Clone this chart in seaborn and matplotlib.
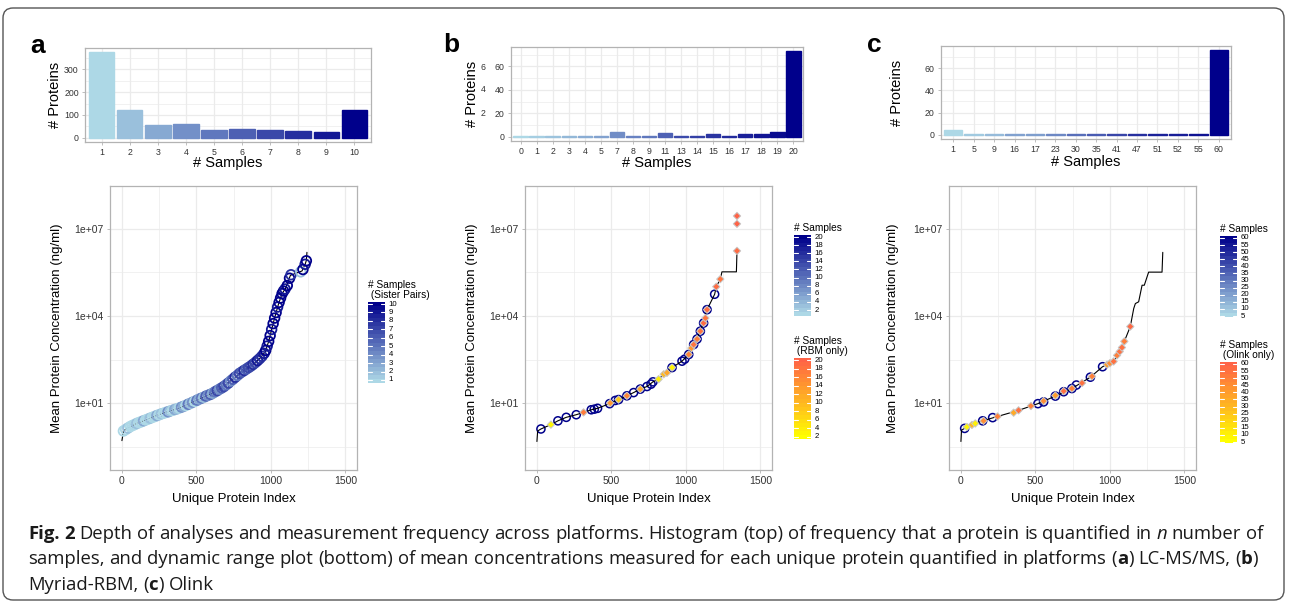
import numpy as np
import pandas as pd
import matplotlib
matplotlib.use("Agg")
import matplotlib.pyplot as plt
import seaborn as sns
from matplotlib.colors import LinearSegmentedColormap, Normalize
from matplotlib.ticker import FixedLocator, NullLocator, FuncFormatter
from matplotlib.patches import FancyBboxPatch
from matplotlib.transforms import IdentityTransform, blended_transform_factory

# ---------------- data ----------------
a_hist_samples = [1, 2, 3, 4, 5, 6, 7, 8, 9, 10]
a_hist_proteins = [375, 120, 54, 61, 33, 38, 33, 30, 23, 120]
b_hist_samples = [0, 1, 2, 3, 4, 5, 7, 8, 9, 11, 13, 14, 15, 16, 17, 18, 19, 20]
b_hist_proteins = [1, 1, 1, 1, 1, 1, 4, 1, 1, 3, 1, 1, 2, 1, 2, 2, 4, 73]
c_hist_samples = [1, 5, 9, 16, 17, 23, 30, 35, 41, 47, 51, 52, 55, 60]
c_hist_proteins = [4, 1, 1, 1, 1, 1, 1, 1, 1, 1, 1, 1, 1, 76]

# panel a: LC-MS/MS dynamic range (index, log10 mean conc, # sister pairs)
a_pt_idx = [10, 25, 40, 55, 70, 85, 100, 115, 130, 145, 160, 175, 190, 205, 220, 235, 250, 265, 280, 295,
            310, 325, 340, 355, 370, 385, 400, 415, 430, 445, 460, 475, 490, 505, 520, 535, 550, 565, 580, 595,
            610, 625, 640, 655, 670, 685, 700, 715, 730, 745, 760, 775, 790, 805, 820, 835, 850, 865, 880, 895,
            910, 925, 940, 955, 965, 975, 985, 995, 1005, 1015, 1025, 1035, 1045, 1055, 1065, 1075, 1085, 1095,
            1110, 1125, 1135, 1200, 1215, 1230, 1238]
a_pt_log = [0.05, 0.10, 0.15, 0.20, 0.24, 0.27, 0.31, 0.34, 0.37, 0.40, 0.43, 0.46, 0.49, 0.52, 0.55, 0.58, 0.61, 0.64, 0.66, 0.69,
            0.71, 0.74, 0.76, 0.79, 0.81, 0.84, 0.87, 0.90, 0.93, 0.97, 1.00, 1.04, 1.07, 1.11, 1.15, 1.18, 1.21, 1.25, 1.28, 1.31,
            1.35, 1.40, 1.44, 1.49, 1.53, 1.58, 1.64, 1.70, 1.77, 1.83, 1.90, 1.96, 2.03, 2.08, 2.13, 2.18, 2.23, 2.28, 2.34, 2.40,
            2.47, 2.54, 2.62, 2.72, 2.82, 2.97, 3.13, 3.33, 3.54, 3.74, 3.93, 4.12, 4.31, 4.47, 4.62, 4.77, 4.86, 4.93,
            5.05, 5.30, 5.42, 5.52, 5.60, 5.78, 5.90]
a_pt_n = [1, 1, 2, 1, 1, 1, 2, 1, 1, 3, 1, 1, 2, 1, 1, 3, 1, 2, 1, 1,
          4, 2, 1, 3, 2, 1, 4, 3, 1, 5, 2, 4, 1, 5, 3, 5, 2, 6, 4, 6,
          3, 5, 7, 4, 6, 7, 5, 7, 4, 6, 8, 5, 7, 6, 8, 6, 7, 7, 8, 7,
          9, 8, 8, 9, 10, 9, 10, 10, 9, 10, 10, 10, 9, 10, 10, 10, 10, 9,
          10, 10, 8, 2, 10, 9, 10]
a_line_idx = [0, 11, 67, 123, 190, 257, 325, 392, 459, 526, 593, 660, 728, 795, 862, 929, 963, 985, 1007, 1030,
              1052, 1075, 1097, 1131, 1209, 1231, 1238, 1242]
a_line_log = [-0.28, 0.06, 0.23, 0.36, 0.49, 0.63, 0.74, 0.85, 1.00, 1.16, 1.31, 1.50, 1.76, 2.05, 2.27, 2.56, 2.78, 3.13, 3.58, 4.03,
              4.43, 4.77, 4.94, 5.40, 5.55, 5.80, 5.91, 6.19]

# panel b: Myriad-RBM
b_circ_idx = [27, 141, 197, 264, 365, 385, 407, 488, 526, 548, 604, 649, 694, 739, 766, 779, 907, 974, 992, 1019,
              1052, 1075, 1097, 1119, 1142, 1193]
b_circ_log = [0.12, 0.40, 0.52, 0.61, 0.78, 0.80, 0.83, 0.99, 1.10, 1.13, 1.26, 1.37, 1.49, 1.58, 1.66, 1.74, 2.23, 2.45, 2.52, 2.68,
              3.02, 3.21, 3.48, 3.76, 4.22, 4.75]
b_circ_n = [20, 20, 20, 20, 20, 19, 20, 20, 20, 20, 20, 20, 20, 20, 20, 19, 20, 20, 20, 20,
            20, 20, 20, 20, 20, 20]
b_dot_idx = [94, 313, 492, 548, 604, 694, 817, 851, 873, 907, 1019, 1037, 1052, 1075, 1097, 1119, 1131, 1142,
             1204, 1231, 1343, 1343, 1343]
b_dot_log = [0.27, 0.69, 1.01, 1.13, 1.26, 1.49, 1.83, 2.00, 2.05, 2.23, 2.68, 2.90, 3.02, 3.21, 3.48, 3.76, 3.93, 4.22,
             5.01, 5.27, 6.24, 7.17, 7.44]
b_dot_n = [3, 17, 14, 8, 16, 12, 4, 10, 12, 3, 16, 14, 18, 17, 18, 19, 18, 19,
           19, 18, 19, 20, 20]
b_line_idx = [0, 5, 27, 94, 141, 197, 264, 313, 365, 407, 488, 548, 604, 649, 694, 739, 779, 817, 851, 907,
              974, 1019, 1052, 1097, 1142, 1193, 1204, 1231, 1242, 1339, 1343]
b_line_log = [-0.31, 0.05, 0.12, 0.27, 0.40, 0.52, 0.61, 0.69, 0.78, 0.83, 0.99, 1.13, 1.26, 1.37, 1.49, 1.58, 1.74, 1.83, 2.00, 2.23,
              2.45, 2.68, 3.02, 3.48, 4.22, 4.75, 5.01, 5.27, 5.52, 5.52, 6.24]

# panel c: Olink
c_circ_idx = [25, 146, 213, 517, 555, 634, 690, 745, 775, 869, 951]
c_circ_log = [0.14, 0.40, 0.51, 0.99, 1.05, 1.25, 1.40, 1.51, 1.63, 1.90, 2.26]
c_circ_n = [60, 60, 60, 60, 60, 60, 60, 60, 60, 60, 60]
c_dot_idx = [40, 74, 96, 152, 246, 354, 387, 470, 555, 634, 690, 745, 813, 880, 981, 1000, 1025, 1048, 1066, 1081, 1097, 1137]
c_dot_log = [0.19, 0.26, 0.31, 0.40, 0.55, 0.68, 0.76, 0.91, 1.08, 1.27, 1.42, 1.51, 1.70, 1.93, 2.33, 2.38, 2.44, 2.65, 2.78, 2.92, 3.13, 3.64]
c_dot_n = [8, 30, 10, 45, 50, 35, 55, 50, 45, 40, 55, 50, 55, 50, 40, 45, 55, 50, 55, 55, 50, 58]
c_line_idx = [0, 4, 25, 96, 146, 246, 387, 517, 634, 745, 869, 951, 1025, 1066, 1097, 1137, 1160, 1171, 1193, 1216,
              1231, 1260, 1350, 1355]
c_line_log = [-0.31, 0.08, 0.14, 0.31, 0.40, 0.55, 0.76, 0.99, 1.25, 1.51, 1.90, 2.26, 2.44, 2.78, 3.13, 3.64, 4.26, 4.43, 4.49, 5.06,
              5.06, 5.51, 5.51, 6.19]

a_legend_breaks = [1, 2, 3, 4, 5, 6, 7, 8, 9, 10]
b_legend_breaks = [2, 4, 6, 8, 10, 12, 14, 16, 18, 20]
c_legend_breaks = [5, 10, 15, 20, 25, 30, 35, 40, 45, 50, 55, 60]

# ---------------- style ----------------
sns.set_theme(style="white")
plt.rcParams["font.family"] = ["Liberation Sans", "DejaVu Sans"]

W, H = 1290, 605
fig = plt.figure(figsize=(W / 100, H / 100), dpi=100)
fig.patch.set_facecolor("white")

BLUE = LinearSegmentedColormap.from_list("lb_db", ["#ADD8E6", "#00008B"])
ORANGE = LinearSegmentedColormap.from_list("y_tom", ["#FFFF00", "#FF6347"])
GRID = "#EBEBEB"
BORDER = "#B3B3B3"
TXT = "#333333"


def add_ax(l, t, r, b):
    return fig.add_axes([l / W, 1 - b / H, (r - l) / W, (b - t) / H])


def style_ax(ax, labelsize):
    ax.set_facecolor("white")
    for s in ax.spines.values():
        s.set_visible(True)
        s.set_color(BORDER)
        s.set_linewidth(0.9)
    ax.tick_params(which="major", bottom=True, left=True, length=2.5, width=0.6,
                   color=BORDER, labelcolor=TXT, labelsize=labelsize, pad=2)
    ax.tick_params(which="minor", bottom=False, left=False, length=0)
    ax.grid(True, which="major", color=GRID, lw=0.9)
    ax.grid(True, which="minor", color=GRID, lw=0.5)
    ax.set_axisbelow(True)


def place_label(ax, axis, text, px, py, size):
    x, y = ax.transAxes.inverted().transform((px, H - py))
    if axis == "x":
        ax.set_xlabel(text, fontsize=size, color="black", va="center", ha="center")
        ax.xaxis.set_label_coords(x, y)
    else:
        ax.set_ylabel(text, fontsize=size, color="black", va="center", ha="center")
        ax.yaxis.set_label_coords(x, y)


def hist_panel(box, samples, proteins, ymax, yticks, yminor, xl, yl):
    ax = add_ax(*box)
    df = pd.DataFrame({"samples": [str(s) for s in samples], "proteins": proteins})
    norm = Normalize(min(samples), max(samples))
    pal = {str(s): BLUE(norm(s)) for s in samples}
    sns.barplot(data=df, x="samples", y="proteins", hue="samples", palette=pal,
                order=list(df["samples"]), hue_order=list(df["samples"]), legend=False,
                width=0.9, saturation=1, errorbar=None, linewidth=0, ax=ax)
    for p in ax.patches:
        p.set_edgecolor(p.get_facecolor())
        p.set_linewidth(1.0)
    ax.set_xlim(-0.6, len(samples) - 0.4)
    ax.set_ylim(-0.05 * ymax, 1.05 * ymax)
    ax.yaxis.set_major_locator(FixedLocator(yticks))
    ax.yaxis.set_minor_locator(FixedLocator(yminor))
    ax.xaxis.set_minor_locator(NullLocator())
    style_ax(ax, 6.3)
    place_label(ax, "x", "# Samples", (box[0] + box[2]) / 2, xl, 10.5)
    place_label(ax, "y", "# Proteins", yl, (box[1] + box[3]) / 2, 10.5)
    return ax


def log_fmt(v, p):
    e = int(round(np.log10(v)))
    return f"1e+{e:02d}" if e >= 0 else f"1e-{-e:02d}"


def scatter_panel(box, line_idx, line_log, c_idx, c_log, c_n, c_norm, d_idx=None, d_log=None, d_n=None, d_norm=None,
                  circ_size=34, circ_lw=1.1, line_z=2, ylab_x=0):
    ax = add_ax(*box)
    sns.lineplot(x=line_idx, y=10 ** np.array(line_log), sort=False, estimator=None,
                 color="black", lw=0.8, ax=ax, zorder=line_z)
    sns.scatterplot(x=c_idx, y=10 ** np.array(c_log), hue=c_n, palette=BLUE, hue_norm=c_norm,
                    legend=False, s=circ_size, linewidth=0, ax=ax, zorder=1.5)
    coll = ax.collections[-1]
    fc = coll.get_facecolors()
    coll.set_facecolors("none")
    coll.set_edgecolors(fc)
    coll.set_linewidths(circ_lw)
    if d_idx is not None:
        sns.scatterplot(x=d_idx, y=10 ** np.array(d_log), hue=d_n, palette=ORANGE, hue_norm=d_norm,
                        marker="D", s=14, edgecolor="#C8C8C8", linewidth=0.7, legend=False, ax=ax, zorder=3)
    ax.set_yscale("log")
    ax.set_ylim(10 ** -1.29, 10 ** 8.47)
    ax.set_xlim(-80, 1578)
    ax.xaxis.set_major_locator(FixedLocator([0, 500, 1000, 1500]))
    ax.xaxis.set_minor_locator(FixedLocator([250, 750, 1250]))
    ax.yaxis.set_major_locator(FixedLocator([1e1, 1e4, 1e7]))
    ax.yaxis.set_minor_locator(FixedLocator([10 ** -0.5, 10 ** 2.5, 10 ** 5.5]))
    ax.yaxis.set_major_formatter(FuncFormatter(log_fmt))
    ax.yaxis.set_minor_formatter(FuncFormatter(lambda v, p: ""))
    style_ax(ax, 7.5)
    place_label(ax, "x", "Unique Protein Index", (box[0] + box[2]) / 2, 499, 9.5)
    place_label(ax, "y", "Mean Protein Concentration (ng/ml)", ylab_x, (box[1] + box[3]) / 2, 9.5)
    return ax


def colorbar(box, cmap, lo, hi, breaks, title):
    cax = add_ax(*box)
    vals = np.linspace(lo, hi, 20)
    cax.imshow(vals[:, None], aspect="auto", origin="lower", extent=[0, 1, lo, hi],
               cmap=cmap, norm=Normalize(lo, hi), interpolation="nearest")
    for b in breaks:
        cax.plot([0, 0.22], [b, b], color="white", lw=0.8)
        cax.plot([0.78, 1], [b, b], color="white", lw=0.8)
    cax.set_xlim(0, 1)
    cax.set_ylim(lo, hi)
    cax.axis("off")
    tr = blended_transform_factory(cax.transAxes, cax.transData)
    for b in breaks:
        cax.text(1.2, b, str(b), transform=tr, fontsize=5.6, va="center", ha="left", color="black")
    fig.text(box[0] / W, 1 - (box[1] - 2) / H, title, fontsize=7.3, ha="left", va="bottom",
             linespacing=1.0, color="black")


# ---------------- histograms ----------------
hist_panel((85, 48, 371, 142), a_hist_samples, a_hist_proteins, 375, [0, 100, 200, 300], [50, 150, 250, 350], 163, 55)
hist_panel((511, 47, 803, 141), b_hist_samples, b_hist_proteins, 73, [0, 20, 40, 60], [10, 30, 50, 70], 163, 472)
hist_panel((941, 46, 1231, 139), c_hist_samples, c_hist_proteins, 76, [0, 20, 40, 60], [10, 30, 50, 70], 162, 897)
for lab, yy in zip(["6", "4", "2"], [67, 90, 113]):
    fig.text(483 / W, 1 - yy / H, lab, fontsize=6.3, color=TXT, ha="center", va="center")

# ---------------- dynamic range ----------------
scatter_panel((110, 186, 357, 470), a_line_idx, a_line_log, a_pt_idx, a_pt_log, a_pt_n, (1, 10),
              circ_size=48, circ_lw=1.3, line_z=1, ylab_x=57)
scatter_panel((525, 186, 772, 470), b_line_idx, b_line_log, b_circ_idx, b_circ_log, b_circ_n, (1, 20),
              b_dot_idx, b_dot_log, b_dot_n, (2, 20), ylab_x=472)
scatter_panel((949, 186, 1196, 470), c_line_idx, c_line_log, c_circ_idx, c_circ_log, c_circ_n, (5, 60),
              c_dot_idx, c_dot_log, c_dot_n, (5, 60), ylab_x=893)

# ---------------- legends ----------------
colorbar((368, 302, 385, 383), BLUE, 0.64, 10.24, a_legend_breaks, "# Samples\n (Sister Pairs)")
colorbar((794, 235, 811, 316), BLUE, 0.52, 20.5, b_legend_breaks, "# Samples")
colorbar((794, 358, 811, 439), ORANGE, 1.53, 20.47, b_legend_breaks, "# Samples\n (RBM only)")
colorbar((1220, 236, 1237, 317), BLUE, 4.3, 61.4, c_legend_breaks, "# Samples")
colorbar((1220, 362, 1237, 443), ORANGE, 4.3, 61.4, c_legend_breaks, "# Samples\n (Olink only)")

# ---------------- panel letters ----------------
for lab, x, y in [("a", 30, 53), ("b", 443, 52), ("c", 867, 52)]:
    fig.text(x / W, 1 - y / H, lab, fontsize=19, weight="bold", ha="left", va="baseline", color="black")

# ---------------- caption ----------------
CAP_FAM = ["Open Sans", "DejaVu Sans"]
cap_lines = [
    [("Fig. 2", "bold", "normal"),
     (" Depth of analyses and measurement frequency across platforms. Histogram (top) of frequency that a protein is quantified in ", "normal", "normal"),
     ("n", "normal", "italic"), (" number of", "normal", "normal")],
    [("samples, and dynamic range plot (bottom) of mean concentrations measured for each unique protein quantified in platforms (", "normal", "normal"),
     ("a", "bold", "normal"), (") LC-MS/MS, (", "normal", "normal"), ("b", "bold", "normal"), (")", "normal", "normal")],
    [("Myriad-RBM, (", "normal", "normal"), ("c", "bold", "normal"), (") Olink", "normal", "normal")],
]
renderer = fig.canvas.get_renderer()


def text_w(s, fs, w, st):
    t = fig.text(0, 0, s, fontsize=fs, weight=w, style=st, family=CAP_FAM)
    bb = t.get_window_extent(renderer)
    t.remove()
    return bb.width


def draw_line(segs, x, y, fs, draw=True):
    x0 = x
    for text, w, st in segs:
        sw = text_w("a a", fs, w, st) - text_w("aa", fs, w, st)
        parts = text.split(" ")
        for i, p in enumerate(parts):
            if i > 0:
                x += sw
            if p:
                if draw:
                    fig.text(x / W, 1 - y / H, p, fontsize=fs, weight=w, style=st, family=CAP_FAM,
                             ha="left", va="baseline", color="#1a1a1a")
                x += text_w(p, fs, w, st)
    return x - x0


fs0 = 10.0
width0 = draw_line(cap_lines[0], 28, 540, fs0, draw=False)
fs = fs0 * 1232 / width0
for segs, yb in zip(cap_lines, [539, 564, 590]):
    draw_line(segs, 28, yb, fs)

# ---------------- frame ----------------
frame = FancyBboxPatch((3, 5), 1281, 592, boxstyle="round,pad=0,rounding_size=10",
                       transform=IdentityTransform(), fill=False, ec="#555555", lw=1.0)
fig.add_artist(frame)

fig.savefig("out.png", dpi=100, facecolor="white")
